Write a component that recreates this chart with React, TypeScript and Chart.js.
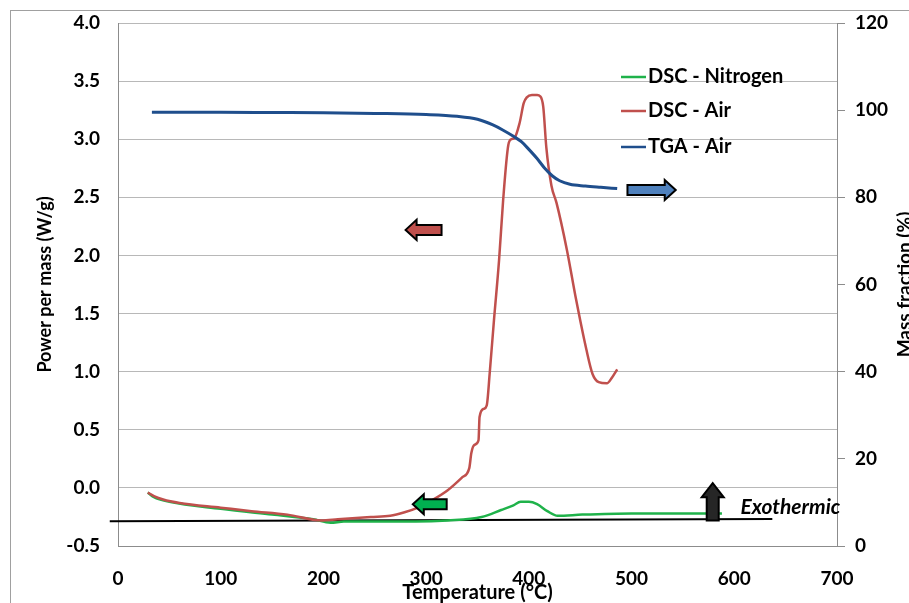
import React, { useEffect, useRef } from "react";
import { Chart, registerables } from "chart.js";

Chart.register(...registerables);

// ---------- data ----------
const dscAirTemp = [29, 35, 44, 60, 100, 130, 165, 198, 214, 246, 265, 279, 292, 305, 321, 335, 342, 344, 347, 351, 352, 356, 359, 362, 366, 371, 375, 380, 383, 386, 391, 395, 398, 403, 408, 411, 414, 417, 422, 427, 437, 446, 456, 462, 468, 476, 481, 486];
const dscAirPower = [-0.04, -0.07, -0.1, -0.13, -0.17, -0.2, -0.23, -0.28, -0.27, -0.25, -0.24, -0.21, -0.17, -0.11, -0.02, 0.09, 0.17, 0.3, 0.37, 0.41, 0.61, 0.68, 0.71, 1.0, 1.44, 1.96, 2.48, 2.95, 3.0, 3.01, 3.14, 3.31, 3.36, 3.38, 3.38, 3.37, 3.28, 2.93, 2.6, 2.45, 2.05, 1.62, 1.19, 0.98, 0.91, 0.9, 0.95, 1.02];

const dscN2Temp = [29, 35, 50, 100, 150, 190, 207, 220, 256, 290, 321, 354, 373, 385, 392, 400, 408, 418, 428, 452, 500, 550, 588];
const dscN2Power = [-0.04, -0.08, -0.12, -0.18, -0.23, -0.27, -0.3, -0.29, -0.29, -0.29, -0.28, -0.25, -0.19, -0.15, -0.12, -0.12, -0.14, -0.2, -0.24, -0.23, -0.22, -0.22, -0.22];

const tgaTemp = [33, 100, 150, 200, 250, 300, 330, 350, 365, 375, 385, 393, 400, 408, 415, 423, 430, 440, 455, 470, 486];
const tgaMass = [99.5, 99.5, 99.45, 99.4, 99.25, 99.0, 98.6, 97.9, 96.6, 95.4, 94.0, 92.7, 91.0, 88.9, 86.8, 84.9, 83.8, 83.0, 82.6, 82.3, 82.0];

const baselineTemp = [-8, 637];
const baselinePower = [-0.286, -0.268];

const seriesNames = ["DSC - Nitrogen", "DSC - Air", "TGA - Air"];
const xTitle = "Temperature (°C)";
const yTitle = "Power per mass (W/g)";
const y2Title = "Mass fraction (%)";
const noteText = "Exothermic";

const xMin = 0, xMax = 700, xStep = 100;
const yMin = -0.5, yMax = 4, yStep = 0.5;
const y2Min = 0, y2Max = 120, y2Step = 20;

// arrows: tail -> tip in data units
const arrowFrom = [[315, 2.22], [320, -0.14], [496, 81.7], [579, -0.28]];
const arrowTo = [[280, 2.22], [287, -0.14], [543, 81.7], [579, 0.04]];
const arrowAxis = ["y", "y", "y1", "y"];
const arrowFill = ["#c0504d", "#00b050", "#4f81bd", "#262626"];
const notePos = [606, -0.17];

// ---------- styles ----------
const FONT = 'Lato, "Open Sans", "DejaVu Sans", sans-serif';
const C_GREEN = "#1fb24a";
const C_RED = "#c0504d";
const C_BLUE = "#1f4e8c";
const C_GRID = "#b8b8b8";
const C_AXIS = "#8c8c8c";

function pts(xs: number[], ys: number[]) {
  return xs.map((v, i) => ({ x: v, y: ys[i] }));
}

function drawArrow(ctx: CanvasRenderingContext2D, x1: number, y1: number, x2: number, y2: number, bh: number, hh: number, hl: number, fill: string) {
  const dx = x2 - x1, dy = y2 - y1;
  const len = Math.hypot(dx, dy);
  const ux = dx / len, uy = dy / len;
  const px = -uy, py = ux;
  const nx = x2 - ux * hl, ny = y2 - uy * hl;
  const p = [
    [x1 + px * bh, y1 + py * bh],
    [nx + px * bh, ny + py * bh],
    [nx + px * hh, ny + py * hh],
    [x2, y2],
    [nx - px * hh, ny - py * hh],
    [nx - px * bh, ny - py * bh],
    [x1 - px * bh, y1 - py * bh],
  ];
  ctx.save();
  ctx.beginPath();
  ctx.moveTo(p[0][0], p[0][1]);
  for (let i = 1; i < p.length; i++) ctx.lineTo(p[i][0], p[i][1]);
  ctx.closePath();
  ctx.fillStyle = fill;
  ctx.fill();
  ctx.lineWidth = 2;
  ctx.lineJoin = "miter";
  ctx.strokeStyle = "#000";
  ctx.stroke();
  ctx.restore();
}

const overlayPlugin = {
  id: "overlay",
  afterDatasetsDraw(chart: any) {
    const { ctx, scales } = chart;
    const x = scales.x;
    for (let i = 0; i < arrowFrom.length; i++) {
      const ys = scales[arrowAxis[i]];
      const vertical = arrowFrom[i][0] === arrowTo[i][0];
      drawArrow(
        ctx,
        x.getPixelForValue(arrowFrom[i][0]), ys.getPixelForValue(arrowFrom[i][1]),
        x.getPixelForValue(arrowTo[i][0]), ys.getPixelForValue(arrowTo[i][1]),
        vertical ? 6 : 5, vertical ? 11 : 10, vertical ? 14 : 11, arrowFill[i]
      );
    }
    ctx.save();
    ctx.font = `italic bold 21px ${FONT}`;
    ctx.fillStyle = "#000";
    ctx.textAlign = "left";
    ctx.textBaseline = "middle";
    ctx.fillText(noteText, x.getPixelForValue(notePos[0]), scales.y.getPixelForValue(notePos[1]));
    ctx.restore();
  },
  afterDraw(chart: any) {
    const { ctx, chartArea } = chart;
    ctx.save();
    // outer chart border
    ctx.strokeStyle = "#a0a0a0";
    ctx.lineWidth = 1;
    ctx.strokeRect(10.5, 10.5, 1000, 1000);

    ctx.fillStyle = "#000";
    ctx.textAlign = "center";
    ctx.textBaseline = "middle";
    // x title
    ctx.font = `bold 20px ${FONT}`;
    ctx.fillText(xTitle, (chartArea.left + chartArea.right) / 2, 593);
    // left title
    ctx.font = `bold 18px ${FONT}`;
    const midY = (chartArea.top + chartArea.bottom) / 2;
    ctx.save();
    ctx.translate(45, midY);
    ctx.rotate(-Math.PI / 2);
    ctx.fillText(yTitle, 0, 0);
    ctx.restore();
    // right title
    ctx.font = `bold 19px ${FONT}`;
    ctx.save();
    ctx.translate(905, midY);
    ctx.rotate(-Math.PI / 2);
    ctx.fillText(y2Title, 0, 0);
    ctx.restore();

    // legend
    ctx.font = `bold 20px ${FONT}`;
    const colors = [C_GREEN, C_RED, C_BLUE];
    const lx = chartArea.left + 503;
    const ly = [chartArea.top + 54, chartArea.top + 88, chartArea.top + 124];
    ctx.textAlign = "left";
    for (let i = 0; i < seriesNames.length; i++) {
      ctx.strokeStyle = colors[i];
      ctx.lineWidth = 2.5;
      ctx.beginPath();
      ctx.moveTo(lx, ly[i]);
      ctx.lineTo(lx + 25, ly[i]);
      ctx.stroke();
      ctx.fillStyle = "#000";
      ctx.fillText(seriesNames[i], lx + 27, ly[i]);
    }
    ctx.restore();
  },
};

export default function App() {
  const canvasRef = useRef<HTMLCanvasElement | null>(null);

  useEffect(() => {
    if (!canvasRef.current) return;
    const tickFont = { family: FONT, size: 19, weight: "bold" as const };
    const chart = new Chart(canvasRef.current, {
      type: "line",
      data: {
        datasets: [
          {
            label: seriesNames[2],
            data: pts(tgaTemp, tgaMass),
            yAxisID: "y1",
            borderColor: C_BLUE,
            borderWidth: 3,
            pointRadius: 0,
            cubicInterpolationMode: "monotone",
            fill: false,
          },
          {
            label: seriesNames[1],
            data: pts(dscAirTemp, dscAirPower),
            yAxisID: "y",
            borderColor: C_RED,
            borderWidth: 2.5,
            pointRadius: 0,
            cubicInterpolationMode: "monotone",
            fill: false,
          },
          {
            label: seriesNames[0],
            data: pts(dscN2Temp, dscN2Power),
            yAxisID: "y",
            borderColor: C_GREEN,
            borderWidth: 2.5,
            pointRadius: 0,
            cubicInterpolationMode: "monotone",
            fill: false,
          },
          {
            label: "baseline",
            data: pts(baselineTemp, baselinePower),
            yAxisID: "y",
            borderColor: "#000",
            borderWidth: 2,
            pointRadius: 0,
            fill: false,
            clip: false as any,
          },
        ],
      },
      options: {
        responsive: false,
        animation: false,
        layout: { padding: { top: 23, left: 0, right: 0, bottom: 0 } },
        plugins: { legend: { display: false }, tooltip: { enabled: false } },
        scales: {
          x: {
            type: "linear",
            position: "bottom",
            min: xMin,
            max: xMax,
            ticks: { stepSize: xStep, font: tickFont, color: "#000", padding: 13, maxRotation: 0 },
            grid: { display: false },
            border: { display: true, color: C_AXIS, width: 1 },
            afterFit: (s: any) => { s.height = 57; },
          },
          y: {
            type: "linear",
            position: "left",
            min: yMin,
            max: yMax,
            ticks: { stepSize: yStep, font: tickFont, color: "#000", padding: 0, callback: (v: any) => Number(v).toFixed(1) },
            grid: { color: C_GRID, drawTicks: true, tickLength: 18, tickColor: "rgba(0,0,0,0)", lineWidth: 1 },
            border: { display: true, color: C_AXIS, width: 1 },
            afterFit: (s: any) => { s.width = 118; },
          },
          y1: {
            type: "linear",
            position: "right",
            min: y2Min,
            max: y2Max,
            ticks: { stepSize: y2Step, font: tickFont, color: "#000", padding: 10 },
            grid: { drawOnChartArea: false, drawTicks: true, tickLength: 8, color: C_AXIS },
            border: { display: true, color: C_AXIS, width: 1 },
            afterFit: (s: any) => { s.width = 72; },
          },
        },
      },
      plugins: [overlayPlugin],
    });
    return () => chart.destroy();
  }, []);

  return (
    <div style={{ position: "fixed", left: 0, top: 0, width: 909, height: 603, background: "#fff" }}>
      <canvas ref={canvasRef} width={909} height={603} style={{ display: "block" }} />
    </div>
  );
}
